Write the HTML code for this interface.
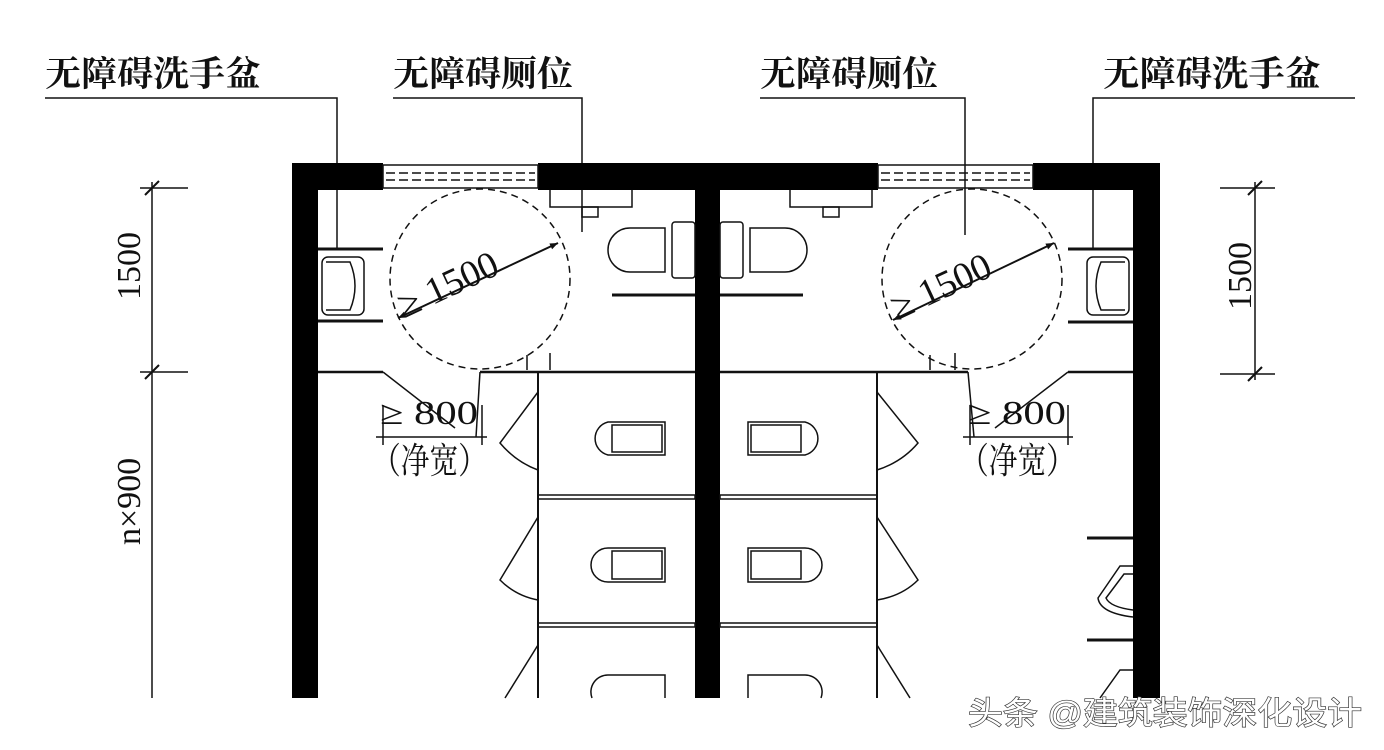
<!DOCTYPE html>
<html><head><meta charset="utf-8"><style>
body{margin:0;background:#fff;width:1384px;height:750px;overflow:hidden}
svg{display:block}
text{font-family:"Liberation Serif","Noto Serif CJK SC",serif;fill:#111}
.cjk{font-family:"Liberation Serif","Noto Serif CJK SC",serif;font-weight:bold}
.wm{font-family:"Liberation Sans","Noto Sans CJK SC",sans-serif}
</style></head><body>
<svg width="1384" height="750" viewBox="0 0 1384 750" xmlns="http://www.w3.org/2000/svg">
<defs>
<marker id="ar" viewBox="0 0 10 10" refX="10" refY="5" markerWidth="14" markerHeight="8" orient="auto-start-reverse" markerUnits="userSpaceOnUse"><path d="M0,1 L10,5 L0,9 z" fill="#111"/></marker>
</defs>
<g fill="none" stroke="#111" stroke-width="1.5">
<polyline points="45,98 337,98 337,250"/>
<polyline points="393,98 582,98 582,232"/>
<polyline points="760,98 965,98 965,235"/>
<polyline points="1355,98 1093,98 1093,250"/>
<line x1="152" y1="182" x2="152" y2="698"/>
<line x1="140" y1="188" x2="188" y2="188"/>
<line x1="140" y1="372" x2="188" y2="372"/>
<line x1="145" y1="195" x2="159" y2="181" stroke-width="2"/>
<line x1="145" y1="379" x2="159" y2="365" stroke-width="2"/>
<line x1="1255" y1="182" x2="1255" y2="380"/>
<line x1="1220" y1="188" x2="1275" y2="188"/>
<line x1="1220" y1="374" x2="1275" y2="374"/>
<line x1="1248" y1="195" x2="1262" y2="181" stroke-width="2"/>
<line x1="1248" y1="381" x2="1262" y2="367" stroke-width="2"/>
</g>
<g fill="#000">
<rect x="292" y="163" width="91" height="27"/>
<rect x="538" y="163" width="340" height="27"/>
<rect x="1033" y="163" width="127" height="27"/>
<rect x="292" y="163" width="26" height="535"/>
<rect x="695" y="163" width="25" height="535"/>
<rect x="1133" y="163" width="27" height="535"/>
</g>
<g fill="none" stroke="#111" stroke-width="1.5">
<rect x="383" y="165" width="155" height="23"/>
<line x1="386" y1="173" x2="535" y2="173" stroke-dasharray="9,4"/>
<line x1="386" y1="180" x2="535" y2="180" stroke-dasharray="9,4"/>
<rect x="878" y="165" width="155" height="23"/>
<line x1="881" y1="173" x2="1030" y2="173" stroke-dasharray="9,4"/>
<line x1="881" y1="180" x2="1030" y2="180" stroke-dasharray="9,4"/>
<line x1="318" y1="372" x2="383" y2="372" stroke-width="2.5"/>
<line x1="480" y1="372" x2="695" y2="372" stroke-width="2.5"/>
<line x1="720" y1="372" x2="968" y2="372" stroke-width="2.5"/>
<line x1="1068" y1="372" x2="1133" y2="372" stroke-width="2.5"/>
<line x1="538" y1="372" x2="538" y2="698" stroke-width="2"/>
<line x1="877" y1="372" x2="877" y2="698" stroke-width="2"/>
<rect x="538" y="495" width="157" height="4"/>
<rect x="720" y="495" width="157" height="4"/>
<rect x="538" y="623" width="157" height="4"/>
<rect x="720" y="623" width="157" height="4"/>
<path d="M538,392 L500,443 Q516,462 538,470"/>
<path d="M538,517 L500,580 Q516,596 538,600"/>
<path d="M538,645 L505,698"/>
<path d="M877,392 L918,443 Q902,462 877,470"/>
<path d="M877,517 L918,580 Q902,596 877,600"/>
<path d="M877,645 L910,698"/>
<path d="M608,422 L665,422 L665,455 L608,455 A17,17 0 0 1 608,422 Z"/><rect x="612" y="425" width="50" height="27"/>
<path d="M805,422 L748,422 L748,455 L805,455 A17,17 0 0 0 805,422 Z"/><rect x="751" y="425" width="50" height="27"/>
<path d="M608,548 L665,548 L665,582 L608,582 A17,17 0 0 1 608,548 Z"/><rect x="612" y="551" width="50" height="28"/>
<path d="M805,548 L748,548 L748,582 L805,582 A17,17 0 0 0 805,548 Z"/><rect x="751" y="551" width="50" height="28"/>
<path d="M608,675 L665,675 L665,698 M608,675 A17,17 0 0 0 592,698"/>
<path d="M805,675 L748,675 L748,698 M805,675 A17,17 0 0 1 821,698"/>
<circle cx="480" cy="279" r="90" stroke-dasharray="7,5"/>
<circle cx="972" cy="279" r="90" stroke-dasharray="7,5"/>
<line x1="398" y1="318" x2="558" y2="243" stroke-width="2" marker-start="url(#ar)" marker-end="url(#ar)"/>
<line x1="893" y1="320" x2="1054" y2="243" stroke-width="2" marker-start="url(#ar)" marker-end="url(#ar)"/>
<line x1="318" y1="249" x2="383" y2="249" stroke-width="3"/>
<line x1="318" y1="321" x2="383" y2="321" stroke-width="3"/>
<rect x="322" y="257" width="42" height="58" rx="6"/>
<path d="M326,262 L350,262 Q360,286 350,310 L326,310"/>
<line x1="1068" y1="249" x2="1133" y2="249" stroke-width="3"/>
<line x1="1068" y1="322" x2="1133" y2="322" stroke-width="3"/>
<rect x="1087" y="257" width="42" height="58" rx="6"/>
<path d="M1125,262 L1101,262 Q1091,286 1101,310 L1125,310"/>
<path d="M550,190 L550,207 L632,207 L632,190"/><rect x="582" y="207" width="16" height="10"/>
<path d="M665,228 L630,228 A22,22 0 0 0 630,272 L665,272 Z"/><rect x="672" y="222" width="23" height="56" rx="3"/>
<line x1="612" y1="295" x2="695" y2="295" stroke-width="3"/>
<path d="M790,190 L790,207 L872,207 L872,190"/><rect x="823" y="207" width="16" height="10"/>
<path d="M750,228 L785,228 A22,22 0 0 1 785,272 L750,272 Z"/><rect x="720" y="222" width="23" height="56" rx="3"/>
<line x1="720" y1="295" x2="803" y2="295" stroke-width="3"/>
<line x1="527" y1="370" x2="527" y2="355"/><line x1="550" y1="370" x2="550" y2="353"/>
<line x1="930" y1="370" x2="930" y2="355"/><line x1="955" y1="370" x2="955" y2="353"/>
<path d="M383,372 L455,428"/><path d="M480,372 L476,437"/>
<path d="M1068,372 L995,428"/><path d="M968,372 L974,437"/>
<line x1="376" y1="437" x2="487" y2="437"/><line x1="383" y1="405" x2="383" y2="445"/><line x1="482" y1="405" x2="482" y2="445"/>
<line x1="963" y1="437" x2="1073" y2="437"/><line x1="970" y1="405" x2="970" y2="445"/><line x1="1068" y1="405" x2="1068" y2="445"/>
<line x1="1087" y1="538" x2="1133" y2="538" stroke-width="3"/>
<line x1="1087" y1="640" x2="1133" y2="640" stroke-width="3"/>
<path d="M1133,566 L1120,566 L1098,598 Q1100,613 1133,617"/>
<path d="M1133,574 L1124,574 L1106,598 Q1110,607 1133,610"/>
<path d="M1133,670 L1120,670 L1100,698"/>
</g>
<text class="cjk" x="45" y="86" font-size="35" textLength="216" lengthAdjust="spacingAndGlyphs">无障碍洗手盆</text>
<text class="cjk" x="393" y="86" font-size="35" textLength="180" lengthAdjust="spacingAndGlyphs">无障碍厕位</text>
<text class="cjk" x="760" y="86" font-size="35" textLength="178" lengthAdjust="spacingAndGlyphs">无障碍厕位</text>
<text class="cjk" x="1103" y="86" font-size="35" textLength="218" lengthAdjust="spacingAndGlyphs">无障碍洗手盆</text>
<text x="0" y="0" font-size="34" transform="translate(140,300) rotate(-90)">1500</text>
<text x="0" y="0" font-size="34" transform="translate(140,545) rotate(-90)">n×900</text>
<text x="0" y="0" font-size="34" transform="translate(1251,310) rotate(-90)">1500</text>
<text x="0" y="0" font-size="38" transform="translate(405,318) rotate(-25)">≥ 1500</text>
<text x="0" y="0" font-size="38" transform="translate(898,320) rotate(-25)">≥ 1500</text>
<text x="380" y="424" font-size="34" textLength="98" lengthAdjust="spacingAndGlyphs">≥ 800</text>
<text x="968" y="424" font-size="34" textLength="98" lengthAdjust="spacingAndGlyphs">≥ 800</text>
<text x="372" y="473" font-size="36" textLength="115" lengthAdjust="spacingAndGlyphs">（净宽）</text>
<text x="960" y="473" font-size="36" textLength="115" lengthAdjust="spacingAndGlyphs">（净宽）</text>
<text class="wm" x="968" y="724" font-size="32" textLength="394" lengthAdjust="spacingAndGlyphs" style="fill:#fff;stroke:#333;stroke-width:1.3;paint-order:stroke">头条 @建筑装饰深化设计</text>
</svg>
</body></html>
